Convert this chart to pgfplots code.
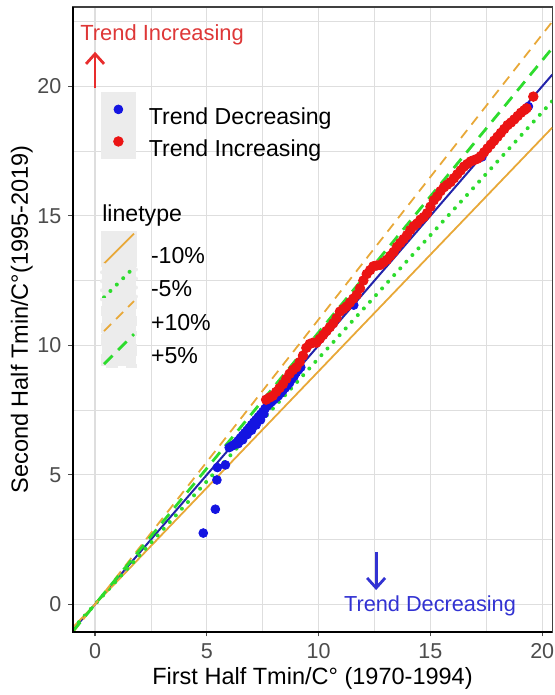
\documentclass[border=0pt]{standalone}
\usepackage{fontspec}
\setmainfont{Liberation Sans}
\usepackage{pgfplots}
\pgfplotsset{compat=1.18}
\usetikzlibrary{arrows.meta}
\definecolor{gold}{RGB}{232,168,56}
\definecolor{grn}{RGB}{45,220,45}
\definecolor{bline}{RGB}{35,35,170}
\definecolor{bpt}{RGB}{20,20,225}
\definecolor{rpt}{RGB}{235,20,20}
\definecolor{keybg}{RGB}{236,236,236}
\definecolor{gridc}{RGB}{222,222,222}
\definecolor{redtxt}{RGB}{222,55,55}
\definecolor{redarr}{RGB}{232,45,45}
\definecolor{bluetxt}{RGB}{50,50,210}
\begin{document}
\begin{tikzpicture}
\begin{axis}[name=main,
 scale only axis, width=239.8bp, height=312.5bp,
 xmin=-1, xmax=20.45, ymin=-1.07, ymax=23.06,
 xtick={0,5,10,15,20}, ytick={0,5,10,15,20},
 minor xtick={2.5,7.5,12.5,17.5}, minor ytick={2.5,7.5,12.5,17.5,22.5},
 grid=both, major grid style={gridc, line width=0.6bp}, minor grid style={gridc, line width=0.45bp},
 tick align=outside, tick pos=left, major tick length=2.2bp, minor tick length=0pt,
 tick style={black!70, line width=0.6bp},
 axis line style={black!75, line width=0.7bp},
 ticklabel style={font=\fontsize{10.8}{12}\selectfont, text=black!70},
 /pgf/number format/assume math mode=true,
 xlabel={First Half Tmin/C° (1970-1994)},
 ylabel={Second Half Tmin/C°(1995-2019)},
 xlabel style={at={(axis description cs:0.5,-0.0736)}, anchor=center, font=\fontsize{11.8}{13}\selectfont},
 ylabel style={at={(axis description cs:-0.106,0.5)}, anchor=center, font=\fontsize{11.8}{13}\selectfont},
 legend style={at={(axis description cs:0.059,0.864)}, anchor=north west, draw=none, fill=none,
   inner sep=0pt, outer sep=0pt, row sep=-1.6bp, column sep=6.5bp,
   nodes={inner sep=0pt}, font=\fontsize{11.6}{13}\selectfont},
 legend cell align=left,
 legend image code/.code={\fill[keybg] (0bp,-4.5bp) rectangle (17bp,12.5bp); \draw[#1] plot coordinates {(8.5bp,4bp)};},
 after end axis/.code={\draw[black, line width=1bp] (rel axis cs:0,1) -- (rel axis cs:0,0) -- (rel axis cs:1,0);},
]
\addplot[forget plot, bline, line width=1bp] coordinates {(-1,-1) (20.45,20.45)};
% Trend Decreasing
\addplot[only marks, mark=*, mark size=2.2bp, bpt, mark options={draw=bpt, fill=bpt}] coordinates {
(4.84,2.75) (5.38,3.67) (5.45,4.8) (5.47,5.28) (5.83,5.38)
(6.0,6.05) (6.1,6.1) (6.2,6.15) (6.3,6.22) (6.4,6.32) (6.5,6.42) (6.6,6.52) (6.7,6.62)
(6.8,6.72) (6.9,6.82) (7.0,6.93) (7.1,7.03) (7.2,7.13) (7.3,7.23) (7.4,7.33) (7.5,7.43)
(6.4,6.2) (6.6,6.35) (6.8,6.55) (7.0,6.72) (7.2,6.92) (7.4,7.12) (7.55,7.35)
(7.6,7.55) (7.7,7.65) (7.8,7.75) (7.9,7.82) (8.0,7.9) (8.1,7.98) (8.2,8.05) (8.3,8.15) (8.4,8.25)
(8.5,8.35) (8.6,8.45) (8.7,8.55) (8.8,8.7) (8.9,8.8) (9.0,8.95) (9.1,9.05) (9.2,9.15)
(11.57,11.55) (17.3,17.27) (19.38,19.22)
};
\addlegendentry{Trend Decreasing}
% Trend Increasing
\addplot[only marks, mark=*, mark size=2.4bp, rpt, mark options={draw=rpt, fill=rpt}] coordinates {
(7.65,7.9) (7.8,7.98) (7.95,8.05) (8.1,8.2) (8.25,8.35) (8.4,8.5) (8.55,8.7) (8.7,8.9)
(8.85,9.05) (9.0,9.15) (9.15,9.35) (9.3,9.6) (9.45,9.9) (9.6,10.05) (9.75,10.1) (9.9,10.1)
(10.05,10.25) (10.2,10.4) (10.35,10.55) (10.5,10.7) (10.65,10.85) (10.8,11.05) (10.95,11.3)
(11.1,11.4) (11.25,11.5) (11.4,11.65) (11.55,11.8) (11.7,11.95) (11.85,12.2) (12.0,12.5)
(12.15,12.75) (12.3,12.9) (12.45,13.05) (12.6,13.08) (12.75,13.1) (12.9,13.2) (13.05,13.3)
(13.2,13.45) (13.35,13.6) (13.5,13.8) (13.65,13.95) (13.8,14.1) (13.95,14.25) (14.1,14.45)
(14.25,14.6) (14.4,14.7) (14.55,14.85) (14.7,14.95) (14.85,15.1) (15.0,15.35) (15.15,15.6)
(15.3,15.75) (15.45,15.95) (15.6,16.1) (15.75,16.2) (15.9,16.3) (16.05,16.45) (16.2,16.6)
(16.35,16.75) (16.5,16.9) (16.65,17.0) (16.8,17.1) (16.95,17.15) (17.1,17.2) (17.25,17.3)
(17.4,17.45) (17.55,17.6) (17.7,17.75) (17.85,17.9) (18.0,18.05) (18.15,18.2) (18.3,18.35)
(18.45,18.5) (18.6,18.6) (18.75,18.72) (18.9,18.85) (19.05,18.98) (19.2,19.08) (19.3,19.15)
(19.6,19.6)
};
\addlegendentry{Trend Increasing}
% reference lines
\addplot[forget plot, gold, line width=0.9bp] coordinates {(-1,-0.9) (20.45,18.405)};
\addplot[forget plot, grn, line width=2bp, dash pattern=on 0.01bp off 4.5bp, line cap=round] coordinates {(-1,-0.95) (20.45,19.4275)};
\addplot[forget plot, gold, line width=0.9bp, dash pattern=on 5bp off 3.5bp] coordinates {(-1,-1.1) (20.45,22.495)};
\addplot[forget plot, grn, line width=1.4bp, dash pattern=on 6bp off 4bp] coordinates {(-1,-1.05) (20.45,21.4725)};
% annotations
\node[anchor=west, text=redtxt, font=\fontsize{11}{13}\selectfont, inner sep=0pt] at (axis cs:-0.68,21.98) {Trend Increasing};
\draw[redarr, line width=1.4bp, -{Straight Barb[length=5bp, width=9bp]}] (axis cs:0,19.93) -- (axis cs:0,21.33);
\node[anchor=center, text=bluetxt, font=\fontsize{10.9}{13}\selectfont, inner sep=0pt] at (axis cs:14.98,-0.07) {Trend Decreasing};
\draw[bluetxt, line width=1.4bp, -{Straight Barb[length=5bp, width=9bp]}] (axis cs:12.57,2.02) -- (axis cs:12.57,0.55);
\end{axis}
\begin{axis}[
 scale only axis, width=239.8bp, height=312.5bp,
 xmin=-1, xmax=20.45, ymin=-1.07, ymax=23.06, hide axis,
 legend style={at={(axis description cs:0.057,0.642)}, anchor=north west, draw=none, fill=none,
   inner sep=0pt, outer sep=0pt, row sep=-1.6bp, column sep=6.5bp,
   nodes={inner sep=0pt}, font=\fontsize{11.6}{13}\selectfont},
 legend cell align=left,
 legend image code/.code={\fill[keybg] (0bp,-4.5bp) rectangle (17bp,12.5bp); \draw[#1] (1bp,-3.5bp) -- (16bp,11.5bp);},
]
\addlegendimage{gold, line width=0.9bp}
\addlegendentry{-10\%}
\addlegendimage{grn, line width=2bp, dash pattern=on 0.01bp off 4.5bp, line cap=round}
\addlegendentry{-5\%}
\addlegendimage{gold, line width=0.9bp, dash pattern=on 5bp off 3.5bp}
\addlegendentry{+10\%}
\addlegendimage{grn, line width=1.4bp, dash pattern=on 6bp off 4bp}
\addlegendentry{+5\%}
\node[anchor=west, inner sep=0pt, font=\fontsize{11.6}{13}\selectfont] at (axis description cs:0.061,0.667) {linetype};
\end{axis}
\pgfresetboundingbox
\path ([shift={(-36.35bp,-31.5bp)}]main.south west) rectangle ([shift={(1.35bp,3.5bp)}]main.north east);
\end{tikzpicture}
\end{document}
